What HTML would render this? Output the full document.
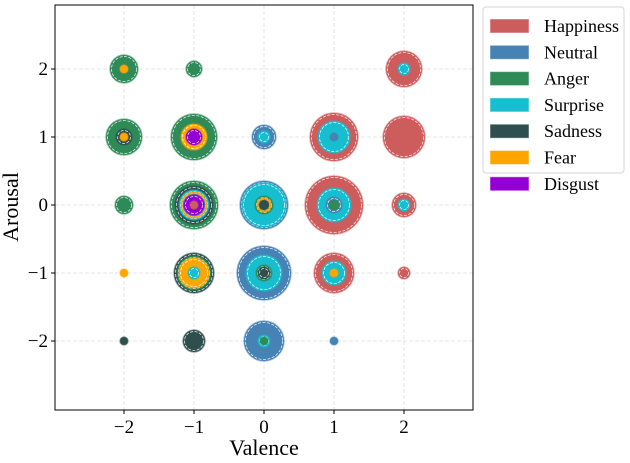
<!DOCTYPE html>
<html><head><meta charset="utf-8"><style>
body{margin:0;background:#fff;width:630px;height:458px;overflow:hidden}
text{font-family:"Liberation Serif",serif;fill:#000}
</style></head><body>
<svg id="chart" width="630" height="458" xmlns="http://www.w3.org/2000/svg">
<g id="grid"></g>
<g id="bubbles"></g>
<rect x="55" y="5" width="418" height="405" fill="none" stroke="#000" stroke-width="1"/>
<g id="ticks"></g>
<text x="264" y="455" font-size="22" text-anchor="middle">Valence</text>
<text transform="translate(18,207) rotate(-90)" font-size="22" text-anchor="middle">Arousal</text>
<g id="legend"></g>
</svg>
<script>
const emotions = ["Happiness","Neutral","Anger","Surprise","Sadness","Fear","Disgust"];
const colors = ["#cd5c5c","#4682b4","#2e8b57","#17becf","#2f4f4f","#ffa500","#9400d3"];
const xTicks = [-2,-1,0,1,2];
const yTicks = [2,1,0,-1,-2];
// points: [valence, arousal, size] per emotion (size ~ marker area)
const happinessPts = [[2,2,324],[1,1,576],[2,1,441],[-1,0,16],[1,0,841],[2,0,144],[1,-1,400],[2,-1,36]];
const neutralPts = [[0,1,144],[-1,0,121],[0,0,576],[1,1,16],[1,0,64],[0,-1,729],[0,-2,400],[1,-2,16]];
const angerPts = [[-2,2,196],[-1,2,64],[-2,1,324],[-1,1,529],[-2,0,81],[-1,0,576],[0,0,81],[1,0,25],[0,-1,64],[-1,-1,289],[0,-2,16]];
const surprisePts = [[2,2,36],[0,1,36],[1,1,256],[-1,0,225],[0,0,484],[1,0,289],[2,0,36],[0,-1,324],[1,-1,144],[-1,-1,36],[0,-2,36]];
const sadnessPts = [[-2,1,64],[-1,0,361],[0,0,25],[0,-1,36],[-1,-1,400],[-2,-2,16],[-1,-2,121]];
const fearPts = [[-2,2,16],[-2,1,16],[-1,1,169],[-1,0,169],[0,0,49],[-2,-1,16],[-1,-1,225],[1,-1,16]];
const disgustPts = [[-1,1,64],[-1,0,100]];
const series = [happinessPts,neutralPts,angerPts,surprisePts,sadnessPts,fearPts,disgustPts];

const NS="http://www.w3.org/2000/svg";
const X0=55,X1=473,Y0=5,Y1=410;
const xs=v=>264+v*70;
const ys=a=>205-a*68;
const rs=s=>Math.sqrt(s);
function mk(tag,attrs,parent){const e=document.createElementNS(NS,tag);for(const k in attrs)e.setAttribute(k,attrs[k]);parent.appendChild(e);return e;}
const grid=document.getElementById('grid'),ticks=document.getElementById('ticks');
xTicks.forEach(t=>{
  const l=mk('line',{x1:xs(t),x2:xs(t),y1:Y0,y2:Y1,stroke:'#dcdcdc','stroke-dasharray':'4 2','stroke-width':0.8},grid);
  
  
  const tk=mk('line',{x1:xs(t),x2:xs(t),y1:Y1,y2:Y1+4,stroke:'#000'},ticks);
  
  
  const tx=mk('text',{x:xs(t),y:Y1+23,'font-size':19,'text-anchor':'middle'},ticks);
  tx.textContent=(t<0?'\u2212'+(-t):t);
  
  
});
yTicks.forEach(t=>{
  const l=mk('line',{x1:X0,x2:X1,y1:ys(t),y2:ys(t),stroke:'#dcdcdc','stroke-dasharray':'4 2','stroke-width':0.8},grid);
  
  
  const tk=mk('line',{x1:X0-4,x2:X0,y1:ys(t),y2:ys(t),stroke:'#000'},ticks);
  
  
  const tx=mk('text',{x:X0-7,y:ys(t)+6,'font-size':19,'text-anchor':'end'},ticks);
  tx.textContent=(t<0?'\u2212'+(-t):t);
  
  
});
const all=[];
series.forEach((pts,i)=>pts.forEach(p=>all.push({v:p[0],a:p[1],s:p[2],i})));
all.sort((a,b)=>b.s-a.s);
const bg=document.getElementById('bubbles');
all.forEach(d=>{
  const r=rs(d.s);
  const c=mk('circle',{cx:xs(d.v),cy:ys(d.a),r:r,fill:colors[d.i],stroke:colors[d.i],'stroke-opacity':0.5,'stroke-width':1.5},bg);
  
  
  if(r>5){
    const e=mk('circle',{cx:xs(d.v),cy:ys(d.a),r:r-1.5,fill:'none',stroke:'#fff','stroke-width':0.8,'stroke-dasharray':'3 1.5','stroke-opacity':0.85},bg);
    
    
  }
});
const lg=document.getElementById('legend');
const box=mk('rect',{x:483,y:7,width:141,height:166,rx:3,fill:'#fff',stroke:'#d6d6d6'},lg);


emotions.forEach((e,i)=>{
  const y=26+i*26.3;
  const g=mk('g',{},lg);
  
  
  mk('rect',{x:490,y:y-7,width:39,height:14,fill:colors[i],stroke:'#fff','stroke-opacity':0.5},g);
  const t=mk('text',{x:544,y:y+6,'font-size':18},g);
  t.textContent=e;
});
</script>
</body></html>
